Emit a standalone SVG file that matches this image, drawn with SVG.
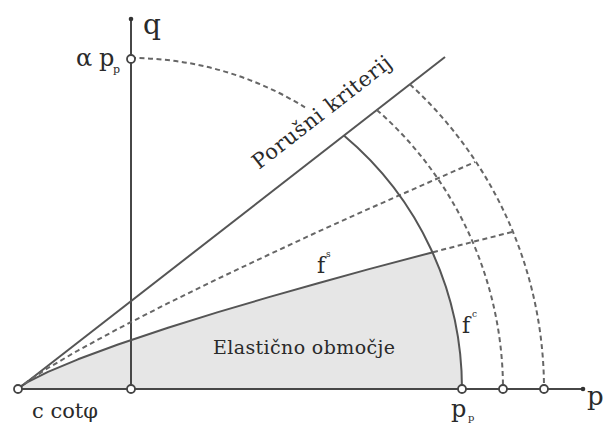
<svg xmlns="http://www.w3.org/2000/svg" width="603" height="425" viewBox="0 0 603 425">
<style>
.ax{stroke:#474747;stroke-width:2;fill:none}
.sol{stroke:#555;stroke-width:2;fill:none;stroke-linejoin:round}
.dash{stroke:#666;stroke-width:2;fill:none;stroke-dasharray:5 3.5}
.pt{fill:#fff;stroke:#444;stroke-width:1.8}
.t{font-family:"DejaVu Serif","Liberation Serif",serif;fill:#2a2a2a}
</style>
<rect width="603" height="425" fill="#fff"/>
<g id="elastic-region">
<path d="M18,389 L21,386.2 L28,381.8 L48,371.8 L78,359.3 L118,344.5 L168,327.7 L218,312.1 L268,297.4 L318,283.2 L368,269.4 L433,252.2 A331,331 0 0 1 462,389 Z" fill="#e6e6e6"/>
</g>
<g id="axes">
<line class="ax" x1="18" y1="389" x2="583" y2="389"/>
<line class="ax" x1="131" y1="389" x2="131" y2="19"/>
<circle cx="583" cy="389" r="2.3" fill="#333"/>
<circle cx="131" cy="19" r="2.3" fill="#333"/>
</g>
<g id="connectors">
<path id="failure-line" class="sol" d="M18,389 L445,57"/>
<path id="yield-f" class="sol" d="M18,389 L21,386.2 L28,381.8 L48,371.8 L78,359.3 L118,344.5 L168,327.7 L218,312.1 L268,297.4 L318,283.2 L368,269.4 L433,252.2"/>
<path id="yield-f-ext" class="dash" d="M433,252.2 L470,242.6 L512,232"/>
<path id="yield-mid" class="dash" d="M18,389 L28,381 L48,368 L78,350.5 L118,328.8 L168,303.2 L218,278.7 L268,255 L318,231.7 L368,209.2 L418,187.1 L475,162"/>
<path id="cap-1" class="sol" d="M343.9,135.6 A331,331 0 0 1 462,389"/>
<path id="cap-1-dash" class="dash" d="M131,58 A331,331 0 0 1 305,107.4"/>
<path id="cap-2" class="dash" d="M376.9,109.9 A372,372 0 0 1 503,389"/>
<path id="cap-3" class="dash" d="M409.9,84.3 A413,413 0 0 1 544,389"/>
</g>
<g id="points">
<circle class="pt" cx="18" cy="389" r="4"/>
<circle class="pt" cx="131" cy="389" r="4"/>
<circle class="pt" cx="462" cy="389" r="4"/>
<circle class="pt" cx="503" cy="389" r="4"/>
<circle class="pt" cx="544" cy="389" r="4"/>
<circle class="pt" cx="131" cy="59" r="4"/>
</g>
<g id="labels">
<text class="t" x="143" y="34" font-size="28">q</text>
<text class="t" x="76" y="66" font-size="24">α</text>
<text class="t" x="99" y="66" font-size="24">p</text>
<text class="t" x="113" y="73" font-size="11">p</text>
<text class="t" font-size="21" textLength="170" lengthAdjust="spacing" transform="translate(259,170) rotate(-37.9)">Porušni kriterij</text>
<text class="t" x="317" y="273" font-size="22">f</text>
<text class="t" x="326" y="257" font-size="9">s</text>
<text class="t" x="462" y="333" font-size="22">f</text>
<text class="t" x="472" y="317" font-size="9">c</text>
<text class="t" x="213" y="354" font-size="19" textLength="182" lengthAdjust="spacing">Elastično območje</text>
<text class="t" x="32" y="418" font-size="21">c cotφ</text>
<text class="t" x="451" y="417" font-size="24">p</text>
<text class="t" x="468" y="421" font-size="10">p</text>
<text class="t" x="587" y="405" font-size="26">p</text>
</g>
</svg>
